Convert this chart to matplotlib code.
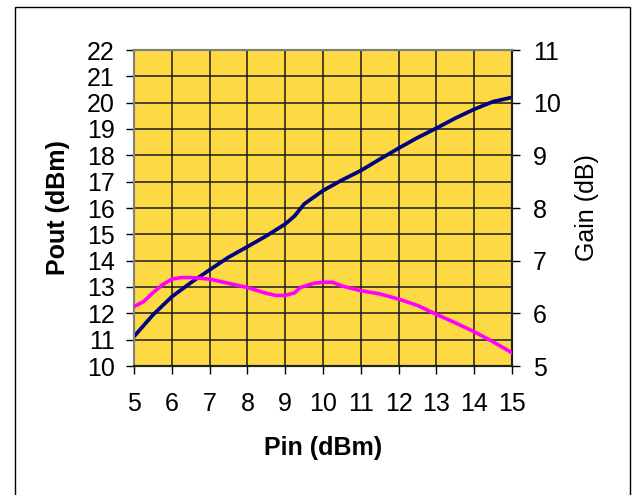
import matplotlib
matplotlib.use("Agg")
import matplotlib.pyplot as plt
from matplotlib.patches import Rectangle

plt.rcParams['font.family'] = ['Liberation Sans', 'DejaVu Sans']

# input power sweep and measured output power
pin_pout = [5, 5.5, 6, 6.5, 7, 7.5, 8, 8.5, 9, 9.25, 9.5, 10, 10.5, 11,
            11.5, 12, 12.5, 13, 13.5, 14, 14.5, 15]
pout = [11.12, 11.94, 12.63, 13.16, 13.65, 14.13, 14.53, 14.94, 15.39, 15.7,
        16.15, 16.66, 17.06, 17.42, 17.85, 18.27, 18.67, 19.03, 19.41, 19.75,
        20.04, 20.2]

# gain curve
pin_gain = [5, 5.25, 5.5, 5.75, 6, 6.25, 6.5, 7, 7.5, 8, 8.5, 8.75, 9, 9.25,
            9.4, 9.75, 10, 10.25, 10.5, 11, 11.5, 12, 12.5, 13, 13.5, 14,
            14.5, 15]
gain = [6.13, 6.22, 6.39, 6.54, 6.65, 6.68, 6.68, 6.65, 6.57, 6.49, 6.38,
        6.34, 6.34, 6.39, 6.49, 6.57, 6.59, 6.59, 6.52, 6.43, 6.37, 6.27,
        6.15, 5.98, 5.82, 5.65, 5.46, 5.25]

fig = plt.figure(figsize=(6.32, 4.95), dpi=100)
fig.patches.append(Rectangle((15 / 632, -0.05), 615 / 632, 1 - 7 / 495 + 0.05,
                             transform=fig.transFigure, fill=False,
                             edgecolor='black', linewidth=1.0))

ax = fig.add_axes([134 / 632, 1 - 366 / 495, 378 / 632, 316 / 495])
ax.set_facecolor('#FDDA44')
ax.set_xlim(5, 15)
ax.set_ylim(10, 22)
ax.set_xticks(range(5, 16))
ax.set_yticks(range(10, 23))
ax.grid(True, color='#1a1a1a', linewidth=1.1)
ax.set_axisbelow(True)

ax.plot(pin_pout, pout, color='#000080', linewidth=2.7, zorder=3)

ax2 = ax.twinx()
ax2.set_ylim(5, 11)
ax2.set_yticks(range(5, 12))
ax2.plot(pin_gain, gain, color='#FF00FF', linewidth=2.6, zorder=3)

for a in (ax, ax2):
    a.spines['top'].set_color('#808080')
    a.spines['left'].set_color('#808080')
    a.spines['right'].set_color('#202020')
    a.spines['bottom'].set_color('#202020')
    for s in a.spines.values():
        s.set_linewidth(1.5)

ax.tick_params(axis='y', direction='out', length=6, width=1, labelsize=18, pad=8)
ax.tick_params(axis='x', direction='out', length=6, width=1, labelsize=18, pad=13)
ax2.tick_params(axis='y', direction='out', length=6, width=1, labelsize=18, pad=9)

ax.set_xlabel('Pin (dBm)', fontsize=18, fontweight='bold')
ax.set_ylabel('Pout (dBm)', fontsize=18, fontweight='bold')
ax2.set_ylabel('Gain (dB)', fontsize=18)

ax.xaxis.set_label_coords(0.5, (366 - 448) / 316)
ax.yaxis.set_label_coords((58 - 134) / 378, 0.5)
ax2.yaxis.set_label_coords((587 - 134) / 378, 0.5)
ax.xaxis.label.set_va('center')
ax.yaxis.label.set_va('center')
ax2.yaxis.label.set_va('center')

fig.savefig('out.png', dpi=100)
